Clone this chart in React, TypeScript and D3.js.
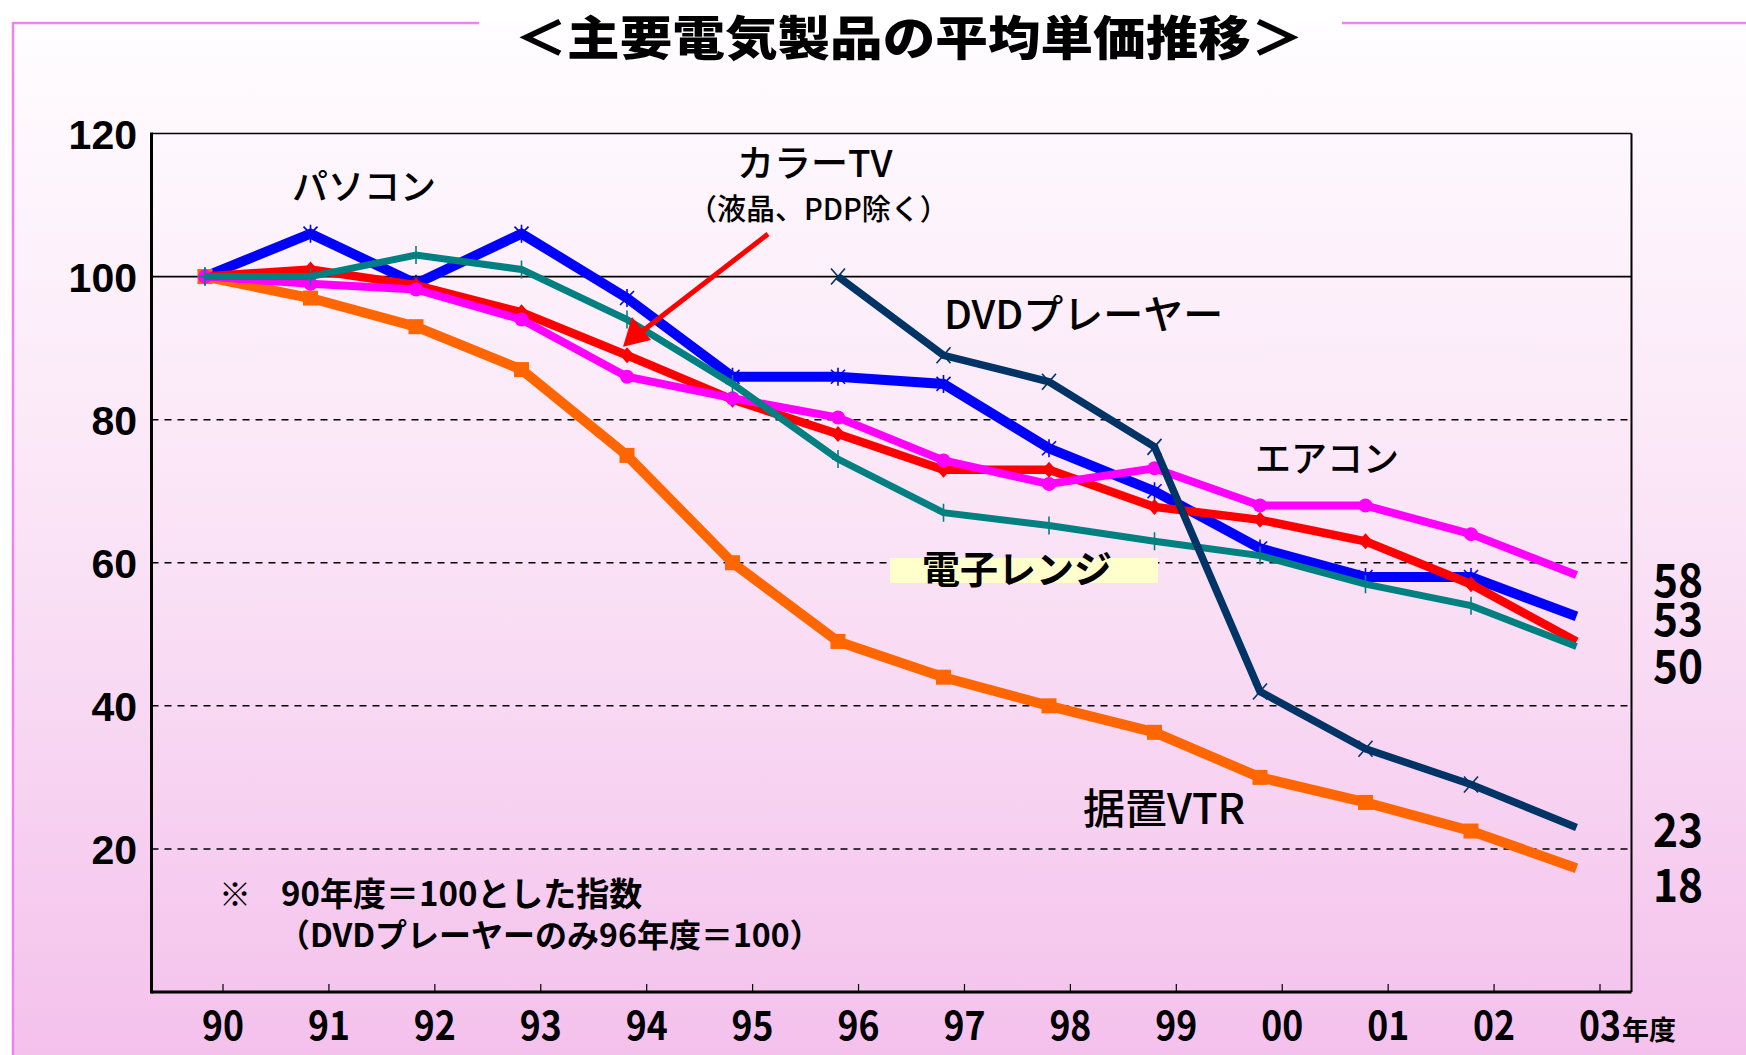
import React from "react";
import * as d3 from "d3";

const years = ["90","91","92","93","94","95","96","97","98","99","00","01","02","03"];
const pasocon = [100,106,99,106,97,86,86,85,76,70,62,58,58,52.5];
const colorTV = [100,101,98.8,95,89,82.8,78,73,73,67.8,66,63,57,49];
const aircon = [100,99,98.2,94,86,83,80.3,74.3,71,73.2,68,68,64,58.3];
const microwave = [100,100,103,101,94,85,74.5,67,65.2,63,61,57,54,48.3];
const vtr = [100,97,93,87,75,60,49,44,40,36.3,30,26.5,22.5,17.3];
const dvdYears = ["96","97","98","99","00","01","02","03"];
const dvd = [100,89,85.3,76.2,42,34,29,23];
const yTicks = [20,40,60,80,100,120];
const endLabels = [
  { text: "58", value: 57.6 },
  { text: "53", value: 52.2 },
  { text: "50", value: 45.6 },
  { text: "23", value: 22.6 },
  { text: "18", value: 15.0 },
];

const W = 1746, H = 1055;
const x = d3.scalePoint<string>().domain(years).range([205, 1576.5]);
const xl = d3.scalePoint<string>().domain(years).range([223, 1600]);
const y = d3.scaleLinear().domain([0, 120]).range([992, 133.5]);
const L = 151.5, R = 1631.5;

type Pt = [string, number];
const zip = (ks: string[], vs: number[]): Pt[] => ks.map((k, i) => [k, vs[i]]);
const line = d3.line<Pt>().x(d => x(d[0])!).y(d => y(d[1]));

const JP = "'Noto Sans CJK JP', 'Noto Sans', sans-serif";
const NUM = "'Liberation Sans', Arial, sans-serif";

function Markers({ pts, kind, color }: { pts: Pt[]; kind: string; color: string }) {
  const m = pts.slice(0, -1);
  return (
    <g>
      {m.map((d, i) => {
        const cx = x(d[0])!, cy = y(d[1]);
        if (kind === "square") return <rect key={i} x={cx - 7.5} y={cy - 7.5} width={15} height={15} fill={color} />;
        if (kind === "circle") return <circle key={i} cx={cx} cy={cy} r={7} fill={color} />;
        if (kind === "diamond") return <path key={i} d={`M${cx},${cy - 8}L${cx + 7},${cy}L${cx},${cy + 8}L${cx - 7},${cy}Z`} fill={color} />;
        if (kind === "star") return (
          <path key={i} d={`M${cx - 7},${cy - 7}L${cx + 7},${cy + 7}M${cx + 7},${cy - 7}L${cx - 7},${cy + 7}M${cx},${cy - 9}L${cx},${cy + 9}`} stroke={color} strokeWidth={1.6} />
        );
        if (kind === "plus") return (
          <path key={i} d={`M${cx},${cy - 9}L${cx},${cy + 9}M${cx - 6},${cy}L${cx + 6},${cy}`} stroke={color} strokeWidth={1.6} />
        );
        if (kind === "x") return (
          <path key={i} d={`M${cx - 7},${cy - 8}L${cx + 7},${cy + 8}M${cx + 7},${cy - 8}L${cx - 7},${cy + 8}`} stroke={color} strokeWidth={1.6} />
        );
        return null;
      })}
    </g>
  );
}

const series = [
  { pts: zip(years, pasocon), color: "#0000ff", w: 10, kind: "star" },
  { pts: zip(years, vtr), color: "#ff6600", w: 10, kind: "square" },
  { pts: zip(years, colorTV), color: "#ff0000", w: 8.5, kind: "diamond" },
  { pts: zip(years, aircon), color: "#ff00ff", w: 8, kind: "circle" },
  { pts: zip(years, microwave), color: "#008080", w: 7, kind: "plus" },
  { pts: zip(dvdYears, dvd), color: "#003366", w: 7.5, kind: "x" },
];

export default function App() {
  return (
    <svg width={W} height={H} style={{ position: "absolute", left: 0, top: 0, display: "block" }}>
      <defs>
        <linearGradient id="bg" x1="0" y1="0" x2="0" y2="1">
          <stop offset="0" stopColor="#fffdff" />
          <stop offset="0.5" stopColor="#fae3f6" />
          <stop offset="1" stopColor="#f4c1ec" />
        </linearGradient>
      </defs>
      <rect x={0} y={0} width={W} height={H} fill="#ffffff" />
      <rect x={13} y={23} width={W - 13} height={H - 23} fill="url(#bg)" />
      <line x1={13} y1={23} x2={479} y2={23} stroke="#ee82ee" strokeWidth={2.5} />
      <line x1={1342} y1={23} x2={W} y2={23} stroke="#ee82ee" strokeWidth={2.5} />
      <line x1={13} y1={22} x2={13} y2={H} stroke="#ee82ee" strokeWidth={2.5} />

      <text x={909} y={55} textAnchor="middle" fontFamily={JP} fontWeight={900} fontSize={47}
        textLength={789} lengthAdjust="spacingAndGlyphs">＜主要電気製品の平均単価推移＞</text>

      {/* gridlines */}
      {yTicks.filter(t => t < 100).map(t => (
        <line key={t} x1={L} x2={R} y1={y(t)} y2={y(t)} stroke="#000" strokeWidth={1.5} strokeDasharray="7 6" />
      ))}
      <line x1={L} x2={R} y1={y(100)} y2={y(100)} stroke="#000" strokeWidth={1.6} />

      {/* frame */}
      <line x1={L} x2={R} y1={y(120)} y2={y(120)} stroke="#000" strokeWidth={1.5} />
      <line x1={R} x2={R} y1={y(120)} y2={y(0)} stroke="#000" strokeWidth={2} />
      <line x1={L} x2={L} y1={y(120) - 1} y2={y(0) + 1.5} stroke="#000" strokeWidth={3} />
      <line x1={L} x2={R} y1={y(0)} y2={y(0)} stroke="#000" strokeWidth={3} />
      {years.map(yr => (
        <line key={yr} x1={xl(yr)} x2={xl(yr)} y1={y(0)} y2={y(0) - 8} stroke="#000" strokeWidth={1.2} />
      ))}

      {/* y labels */}
      {yTicks.map(t => (
        <text key={t} x={137} y={y(t) + 15} textAnchor="end" fontFamily={NUM} fontWeight={700} fontSize={41}>{t}</text>
      ))}
      {/* x labels */}
      {years.map(yr => (
        <text key={yr} x={xl(yr)} y={1040} textAnchor="middle" fontFamily={JP} fontWeight={700} fontSize={40}
          textLength={42} lengthAdjust="spacingAndGlyphs">{yr}</text>
      ))}
      <text x={1622} y={1040} fontFamily={JP} fontWeight={700} fontSize={27}>年度</text>

      {/* series */}
      {series.map((s, i) => (
        <g key={i}>
          <path d={line(s.pts)!} fill="none" stroke={s.color} strokeWidth={s.w} strokeLinejoin="miter" />
          <Markers pts={s.pts} kind={s.kind} color={s.color} />
        </g>
      ))}

      {/* arrow */}
      <line x1={768} y1={234} x2={640} y2={333} stroke="#ff0000" strokeWidth={5} />
      <path d="M623,346.7 L632,317 L651,340 Z" fill="#ff0000" />

      {/* annotations */}
      <text x={292} y={200} fontFamily={JP} fontWeight={500} fontSize={36}>パソコン</text>
      <text x={737} y={177} fontFamily={JP} fontWeight={500} fontSize={37}>カラーTV</text>
      <text x={688} y={220} fontFamily={JP} fontWeight={500} fontSize={29}>（液晶、PDP除く）</text>
      <text x={944} y={329} fontFamily={JP} fontWeight={500} fontSize={40}>DVDプレーヤー</text>
      <text x={1255} y={472} fontFamily={JP} fontWeight={500} fontSize={36}>エアコン</text>
      <rect x={890} y={558} width={268} height={25} fill="#ffffcc" />
      <text x={922} y={583} fontFamily={JP} fontWeight={700} fontSize={38}>電子レンジ</text>
      <text x={1083} y={824} fontFamily={JP} fontWeight={500} fontSize={42}>据置VTR</text>

      {endLabels.map(l => (
        <text key={l.text} x={1678} y={y(l.value) + 17} textAnchor="middle" fontFamily={JP} fontWeight={700} fontSize={46}
          textLength={50} lengthAdjust="spacingAndGlyphs">{l.text}</text>
      ))}

      <text x={219} y={906} fontFamily={JP} fontWeight={700} fontSize={32}>※</text>
      <text x={281} y={906} fontFamily={JP} fontWeight={700} fontSize={33}>90年度＝100とした指数</text>
      <text x={278} y={947} fontFamily={JP} fontWeight={700} fontSize={32}>（DVDプレーヤーのみ96年度＝100）</text>
    </svg>
  );
}
